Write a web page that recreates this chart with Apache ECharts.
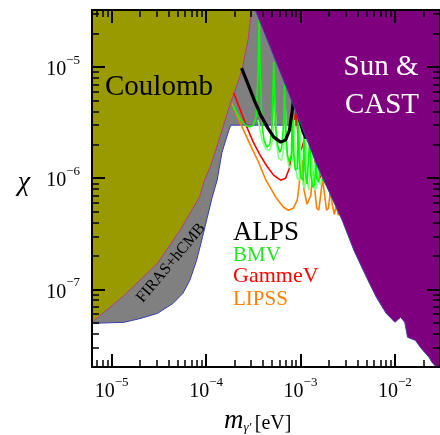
<!DOCTYPE html>
<html><head><meta charset="utf-8">
<script src="https://cdn.jsdelivr.net/npm/echarts@6/dist/echarts.min.js"></script>
<style>html,body{margin:0;padding:0;background:#fff}#c{width:440px;height:435px}</style>
</head><body><div id="c"></div>
<script>
// ---- axis ranges & ticks ----
const xMin = 6.2e-6, xMax = 3.0e-2;
const yMin = 2.0e-8, yMax = 3.26e-5;
const xMajorTicks = [1e-5, 1e-4, 1e-3, 1e-2];
const xMinorTicks = [7e-6, 8e-6, 9e-6, 2e-5, 3e-5, 4e-5, 5e-5, 6e-5, 7e-5, 8e-5, 9e-5,
  2e-4, 3e-4, 4e-4, 5e-4, 6e-4, 7e-4, 8e-4, 9e-4, 2e-3, 3e-3, 4e-3, 5e-3, 6e-3, 7e-3, 8e-3, 9e-3, 2e-2];
const yMajorTicks = [1e-7, 1e-6, 1e-5];
const yMinorTicks = [3e-8, 4e-8, 5e-8, 6e-8, 7e-8, 8e-8, 9e-8, 2e-7, 3e-7, 4e-7, 5e-7, 6e-7, 7e-7, 8e-7, 9e-7,
  2e-6, 3e-6, 4e-6, 5e-6, 6e-6, 7e-6, 8e-6, 9e-6, 2e-5, 3e-5];

// ---- excluded regions (m [eV], chi) ----
const coulombRegion = [[5.0e-6, 4.4e-8], [6.2e-6, 5.05e-8], [1.36e-5, 8.83e-8], [3.06e-5, 1.71e-7],
  [5.30e-5, 3.40e-7], [8.53e-5, 6.75e-7], [9.61e-5, 9.59e-7], [1.109e-4, 1.26e-6], [1.249e-4, 1.71e-6],
  [1.476e-4, 2.70e-6], [1.785e-4, 4.55e-6], [2.376e-4, 9.02e-6], [2.807e-4, 1.82e-5], [3.015e-4, 3.26e-5],
  [3.38e-4, 5.0e-5], [5.0e-6, 5.0e-5]];
const firasRegion = [[5.0e-6, 4.85e-8], [6.2e-6, 4.94e-8], [1.363e-5, 5.05e-8], [2.043e-5, 5.48e-8],
  [3.063e-5, 6.08e-8], [4.482e-5, 7.48e-8], [5.691e-5, 9.20e-8], [6.723e-5, 1.20e-7], [7.943e-5, 1.82e-7],
  [9.165e-5, 2.94e-7], [1.032e-4, 4.45e-7], [1.163e-4, 6.75e-7], [1.310e-4, 9.59e-7], [1.476e-4, 1.71e-6],
  [1.743e-4, 2.70e-6], [1.829e-4, 3.0e-6], [1.2e-3, 3.0e-6], [1.2e-3, 5.0e-5], [5.0e-6, 5.0e-5]];
const sunCastRegion = [[2.5e-4, 5.9e-5], [3.32e-4, 3.26e-5], [7.28e-4, 6.21e-6], [1.52e-3, 1.26e-6],
  [2.76e-3, 4.19e-7], [3.68e-3, 2.24e-7], [5.01e-3, 1.28e-7], [6.36e-3, 8.47e-8], [8.07e-3, 6.08e-8],
  [1.0e-2, 5.05e-8], [1.15e-2, 5.60e-8], [1.27e-2, 5.05e-8], [1.36e-2, 3.70e-8], [1.65e-2, 3.47e-8],
  [1.86e-2, 3.00e-8], [2.30e-2, 2.44e-8], [2.47e-2, 2.20e-8], [3.5e-2, 1.6e-8], [3.5e-2, 5.9e-5]];

// ---- light-shining-through-wall limits ----
const alps = [[2.376e-4, 9.79e-6], [2.807e-4, 6.88e-6], [3.238e-4, 5.05e-6], [3.826e-4, 3.62e-6],
  [4.520e-4, 2.82e-6], [5.214e-4, 2.34e-6], [6.162e-4, 2.11e-6], [6.941e-4, 2.20e-6], [7.637e-4, 2.70e-6],
  [8.203e-4, 4.10e-6], [8.603e-4, 6.21e-6], [9.024e-4, 5.05e-6], [9.687e-4, 3.47e-6], [1.066e-3, 2.60e-6],
  [1.145e-3, 2.29e-6], [1.229e-3, 2.49e-6], [1.320e-3, 3.33e-6]];
const gammev = [[1.964e-4, 5.83e-6], [2.266e-4, 4.27e-6], [2.677e-4, 2.94e-6], [3.162e-4, 2.11e-6],
  [3.736e-4, 1.61e-6], [4.413e-4, 1.28e-6], [5.214e-4, 1.06e-6], [6.162e-4, 9.59e-7], [6.941e-4, 1.0e-6],
  [7.637e-4, 1.23e-6], [8.203e-4, 1.79e-6], [8.603e-4, 2.70e-6], [8.811e-4, 3.70e-6], [9.024e-4, 4.10e-6],
  [9.461e-4, 2.20e-6], [1.016e-3, 1.79e-6], [1.091e-3, 2.20e-6], [1.145e-3, 3.33e-6], [1.289e-3, 2.70e-6],
  [1.418e-3, 1.45e-6], [1.597e-3, 1.0e-6], [1.716e-3, 1.13e-6], [1.843e-3, 1.79e-6]];
const lipss = [[1.873e-4, 4.74e-6], [2.161e-4, 3.55e-6], [2.553e-4, 2.60e-6], [3.015e-4, 1.90e-6],
  [3.562e-4, 1.42e-6], [4.310e-4, 9.59e-7], [5.469e-4, 6.75e-7], [6.618e-4, 5.48e-7], [7.456e-4, 5.15e-7],
  [8.401e-4, 5.37e-7], [9.238e-4, 6.34e-7], [9.687e-4, 8.65e-7], [9.921e-4, 1.18e-6], [1.041e-3, 1.45e-6],
  [1.091e-3, 7.80e-7], [1.172e-3, 5.83e-7], [1.229e-3, 5.71e-7], [1.289e-3, 7.03e-7], [1.352e-3, 1.18e-6],
  [1.418e-3, 7.80e-7], [1.487e-3, 5.37e-7], [1.560e-3, 5.15e-7], [1.636e-3, 7.03e-7], [1.716e-3, 1.0e-6],
  [1.800e-3, 7.03e-7], [1.887e-3, 5.15e-7], [1.980e-3, 5.37e-7], [2.076e-3, 7.80e-7], [2.177e-3, 5.71e-7],
  [2.284e-3, 4.74e-7], [2.395e-3, 5.71e-7], [2.512e-3, 4.64e-7], [2.763e-3, 7.03e-7]];
const bmv = [[1.918e-4, 4.55e-6], [2.266e-4, 3.47e-6], [2.614e-4, 3.00e-6], [2.875e-4, 2.88e-6],
  [3.162e-4, 3.00e-6], [3.396e-4, 3.55e-6], [3.562e-4, 9.39e-6], [3.648e-4, 2.65e-5], [3.736e-4, 9.39e-6],
  [3.918e-4, 3.00e-6], [4.109e-4, 2.20e-6], [4.413e-4, 1.90e-6], [4.741e-4, 2.02e-6], [4.972e-4, 2.82e-6],
  [5.214e-4, 1.11e-5], [5.469e-4, 2.82e-6], [5.736e-4, 1.98e-6], [6.016e-4, 1.71e-6], [6.310e-4, 1.86e-6],
  [6.618e-4, 3.00e-6], [6.778e-4, 6.88e-6], [6.941e-4, 3.00e-6], [7.280e-4, 1.61e-6], [7.637e-4, 1.39e-6],
  [8.010e-4, 1.61e-6], [8.203e-4, 5.05e-6], [8.401e-4, 1.79e-6], [8.811e-4, 1.18e-6], [9.238e-4, 1.23e-6],
  [9.461e-4, 4.10e-6], [9.687e-4, 1.45e-6], [1.016e-3, 1.0e-6], [1.066e-3, 9.59e-7], [1.091e-3, 3.33e-6],
  [1.118e-3, 1.18e-6], [1.172e-3, 8.83e-7], [1.229e-3, 9.01e-7], [1.259e-3, 2.44e-6], [1.289e-3, 1.06e-6],
  [1.352e-3, 8.29e-7], [1.418e-3, 8.83e-7], [1.452e-3, 1.79e-6], [1.487e-3, 1.0e-6], [1.560e-3, 9.20e-7],
  [1.636e-3, 1.31e-6], [1.675e-3, 1.79e-6], [1.716e-3, 9.59e-7], [1.800e-3, 9.01e-7], [1.887e-3, 1.45e-6]];
const bmvB = [[3.562e-4, 3.33e-6], [3.918e-4, 2.20e-6], [4.310e-4, 1.82e-6], [4.741e-4, 1.79e-6],
  [5.092e-4, 2.20e-6], [5.340e-4, 5.05e-6], [5.601e-4, 1.98e-6], [5.875e-4, 1.51e-6], [6.310e-4, 1.45e-6],
  [6.618e-4, 1.79e-6], [6.941e-4, 4.10e-6], [7.109e-4, 1.79e-6], [7.456e-4, 1.31e-6], [7.821e-4, 1.23e-6],
  [8.203e-4, 1.45e-6], [8.603e-4, 3.33e-6], [8.811e-4, 1.31e-6], [9.238e-4, 1.0e-6], [9.687e-4, 9.59e-7],
  [9.921e-4, 2.70e-6], [1.016e-3, 1.18e-6], [1.066e-3, 8.65e-7], [1.118e-3, 8.12e-7], [1.145e-3, 2.20e-6],
  [1.172e-3, 9.59e-7], [1.229e-3, 7.80e-7], [1.289e-3, 8.12e-7], [1.320e-3, 1.79e-6], [1.352e-3, 9.59e-7],
  [1.418e-3, 7.80e-7], [1.487e-3, 8.47e-7], [1.523e-3, 1.31e-6], [1.560e-3, 9.59e-7], [1.636e-3, 8.65e-7],
  [1.716e-3, 1.04e-6]];

const serif = "'Liberation Serif','DejaVu Serif','Times New Roman',serif";

function fmtPow(v) {
  const e = Math.round(Math.log10(v));
  return '{b|10}{s|' + (e < 0 ? '\u2212' : '') + Math.abs(e) + '}';
}
const richLbl = {
  b: {fontSize: 20, fontFamily: serif, color: '#000', lineHeight: 26, verticalAlign: 'bottom'},
  s: {fontSize: 13, fontFamily: serif, color: '#000', lineHeight: 13, verticalAlign: 'top'}
};

function axis(type, pos, major, showLabel) {
  const isX = type === 'x';
  return {
    type: 'log', logBase: 10, gridIndex: 0, position: pos, z: 10,
    min: isX ? xMin : yMin, max: isX ? xMax : yMax,
    axisLine: {show: major, onZero: false, lineStyle: {color: '#000', width: 2}},
    axisTick: {show: true, inside: true, length: major ? 13 : 7,
      customValues: major ? (isX ? xMajorTicks : yMajorTicks) : (isX ? xMinorTicks : yMinorTicks),
      lineStyle: {color: '#000', width: major ? 2 : 1.5}},
    axisLabel: {show: showLabel, customValues: isX ? xMajorTicks : yMajorTicks,
      formatter: fmtPow, rich: richLbl, margin: isX ? 9 : 12},
    splitLine: {show: false}, minorTick: {show: false}, minorSplitLine: {show: false}
  };
}

function polySeries(name, pts, fill, stroke, z) {
  return {
    type: 'custom', name: name, z: z, clip: true, silent: true,
    coordinateSystem: 'cartesian2d', xAxisIndex: 0, yAxisIndex: 0,
    data: pts, encode: {x: 0, y: 1},
    renderItem: function (params, api) {
      if (params.dataIndex !== 0) return null;
      return {type: 'polygon', shape: {points: pts.map(p => api.coord(p))},
        style: {fill: fill, stroke: stroke, lineWidth: 1}};
    }
  };
}
function lineSeries(name, data, color, width, z) {
  return {type: 'line', name: name, data: data, z: z, showSymbol: false, symbol: 'none',
    clip: true, silent: true, lineStyle: {color: color, width: width}, xAxisIndex: 0, yAxisIndex: 0};
}

const chart = echarts.init(document.getElementById('c'), null, {renderer: 'canvas'});
chart.setOption({
  animation: false,
  backgroundColor: '#fff',
  grid: {left: 92, top: 10, width: 356, height: 357, containLabel: false},
  xAxis: [axis('x', 'bottom', true, true), axis('x', 'bottom', false, false),
          axis('x', 'top', true, false), axis('x', 'top', false, false)],
  yAxis: [axis('y', 'left', true, true), axis('y', 'left', false, false),
          axis('y', 'right', true, false), axis('y', 'right', false, false)],
  series: [
    polySeries('FIRAS+hCMB', firasRegion, '#808080', '#3a3ab0', 1),
    polySeries('Coulomb', coulombRegion, '#999900', '#b04080', 2),
    lineSeries('LIPSS', lipss, '#ff8000', 1.6, 3),
    lineSeries('GammeV', gammev, '#ff0000', 1.6, 3),
    lineSeries('BMV b', bmvB, '#88ff88', 1.6, 3),
    lineSeries('BMV', bmv, '#00ff00', 1.6, 3),
    lineSeries('ALPS', alps, '#000000', 3.2, 3),
    polySeries('Sun & CAST', sunCastRegion, '#7f007f', '#4040a0', 4)
  ],
  graphic: [
    {type: 'text', x: 105, y: 87, z: 100, style: {text: 'Coulomb', font: '29px ' + serif, fill: '#000',
      align: 'left', verticalAlign: 'middle', textAlign: 'left', textVerticalAlign: 'middle'}},
    {type: 'text', x: 381, y: 67, z: 100, style: {text: 'Sun &', font: '29px ' + serif, fill: '#fff',
      align: 'center', verticalAlign: 'middle', textAlign: 'center', textVerticalAlign: 'middle'}},
    {type: 'text', x: 382, y: 105, z: 100, style: {text: 'CAST', font: '29px ' + serif, fill: '#fff',
      align: 'center', verticalAlign: 'middle', textAlign: 'center', textVerticalAlign: 'middle'}},
    {type: 'text', x: 171, y: 263, z: 100, rotation: 0.873, style: {text: 'FIRAS+hCMB', font: '16px ' + serif,
      fill: '#000', align: 'center', verticalAlign: 'middle', textAlign: 'center', textVerticalAlign: 'middle'}},
    {type: 'text', x: 233, y: 233, z: 100, style: {text: 'ALPS', font: '27px ' + serif, fill: '#000',
      align: 'left', verticalAlign: 'middle', textAlign: 'left', textVerticalAlign: 'middle'}},
    {type: 'text', x: 233, y: 255, z: 100, style: {text: 'BMV', font: '21px ' + serif, fill: '#22e622',
      align: 'left', verticalAlign: 'middle', textAlign: 'left', textVerticalAlign: 'middle'}},
    {type: 'text', x: 233, y: 276, z: 100, style: {text: 'GammeV', font: '22px ' + serif, fill: '#ff0000',
      align: 'left', verticalAlign: 'middle', textAlign: 'left', textVerticalAlign: 'middle'}},
    {type: 'text', x: 233, y: 299, z: 100, style: {text: 'LIPSS', font: '21px ' + serif, fill: '#ff8000',
      align: 'left', verticalAlign: 'middle', textAlign: 'left', textVerticalAlign: 'middle'}},
    {type: 'text', x: 24, y: 183, z: 100, style: {text: '\u03c7', font: 'italic 28px ' + serif, fill: '#000',
      align: 'center', verticalAlign: 'middle', textAlign: 'center', textVerticalAlign: 'middle'}},
    {type: 'text', x: 224, y: 404, z: 100, style: {
      text: '{m|m}{g|\u03b3\u2032} {u|[eV]}', fill: '#000', align: 'left', verticalAlign: 'top',
      textAlign: 'left', textVerticalAlign: 'top',
      rich: {
        m: {fontSize: 27, fontStyle: 'italic', fontFamily: serif, lineHeight: 30, verticalAlign: 'bottom'},
        g: {fontSize: 13, fontStyle: 'italic', fontFamily: serif, lineHeight: 14, verticalAlign: 'bottom'},
        u: {fontSize: 20, fontFamily: serif, lineHeight: 22, verticalAlign: 'bottom'}
      }}}
  ]
});
</script></body></html>
